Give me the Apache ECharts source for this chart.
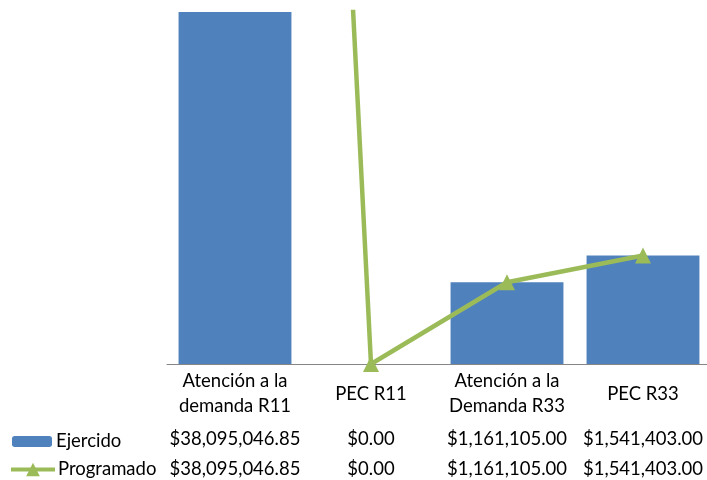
<!DOCTYPE html>
<html>
<head>
<meta charset="utf-8">
<script src="https://cdn.jsdelivr.net/npm/echarts@6/dist/echarts.min.js"></script>
<style>
  html, body { margin: 0; padding: 0; background: #fff; overflow: hidden; }
  #main { width: 712px; height: 480px; }
</style>
</head>
<body>
<div id="main"></div>
<script>
// datos de la grafica
const categorias = ['Atención a la\ndemanda R11', 'PEC R11', 'Atención a la\nDemanda R33', 'PEC R33'];
const ejercido = [38095046.85, 0, 1161105.00, 1541403.00];
const programado = [38095046.85, 0, 1161105.00, 1541403.00];

const fuente = 'Lato';
const tam = 18.5;

function moneda(v) {
  return '$' + v.toLocaleString('en-US', { minimumFractionDigits: 2, maximumFractionDigits: 2 });
}

// el area de trazo sigue un poco mas alla del borde derecho, como en el original
let chart = echarts.init(document.getElementById('main'));

// ejes extra para las filas de la tabla de datos
function filaTabla(valores, margen) {
  return {
    type: 'category',
    gridIndex: 0,
    position: 'bottom',
    data: valores.map(moneda),
    axisLine: { show: false },
    axisTick: { show: false },
    axisLabel: {
      margin: margen,
      verticalAlign: 'middle',
      interval: 0,
      color: '#000',
      fontFamily: fuente,
      fontSize: tam
    }
  };
}

let option = {
  animation: false,
  legend: [
    {
      data: ['Ejercido'],
      left: 12,
      top: 432,
      itemWidth: 40,
      itemHeight: 11,
      itemGap: 0,
      padding: 0,
      textStyle: { color: '#000', fontFamily: fuente, fontSize: tam, padding: [0, 0, 0, -1] }
    },
    {
      data: ['Programado'],
      left: 9,
      top: 460,
      itemWidth: 44,
      itemHeight: 17,
      padding: 0,
      lineStyle: { width: 4 },
      textStyle: { color: '#000', fontFamily: fuente, fontSize: tam, padding: [0, 0, 0, -2] }
    }
  ],
  grid: { left: 167, top: 12, width: 544, height: 352 },
  xAxis: [
    {
      type: 'category',
      data: categorias,
      axisLine: { lineStyle: { color: '#868686', width: 1 } },
      axisTick: { show: false },
      axisLabel: {
        margin: 30,
        verticalAlign: 'middle',
        lineHeight: 25,
        interval: 0,
        color: '#000',
        fontFamily: fuente,
        fontSize: tam
      }
    },
    filaTabla(ejercido, 75),
    filaTabla(programado, 105)
  ],
  yAxis: {
    type: 'value',
    min: 0,
    max: 5000000,
    show: false,
    splitLine: { show: false }
  },
  series: [
    {
      name: 'Ejercido',
      type: 'bar',
      data: ejercido,
      barCategoryGap: '17%',
      itemStyle: { color: '#4F81BD' },
      clip: true
    },
    {
      name: 'Programado',
      type: 'line',
      data: programado,
      symbol: 'triangle',
      symbolSize: 16,
      lineStyle: { color: '#9BBB59', width: 4.5 },
      itemStyle: { color: '#9BBB59' },
      clip: true
    }
  ]
};
chart.setOption(option);
</script>
</body>
</html>
